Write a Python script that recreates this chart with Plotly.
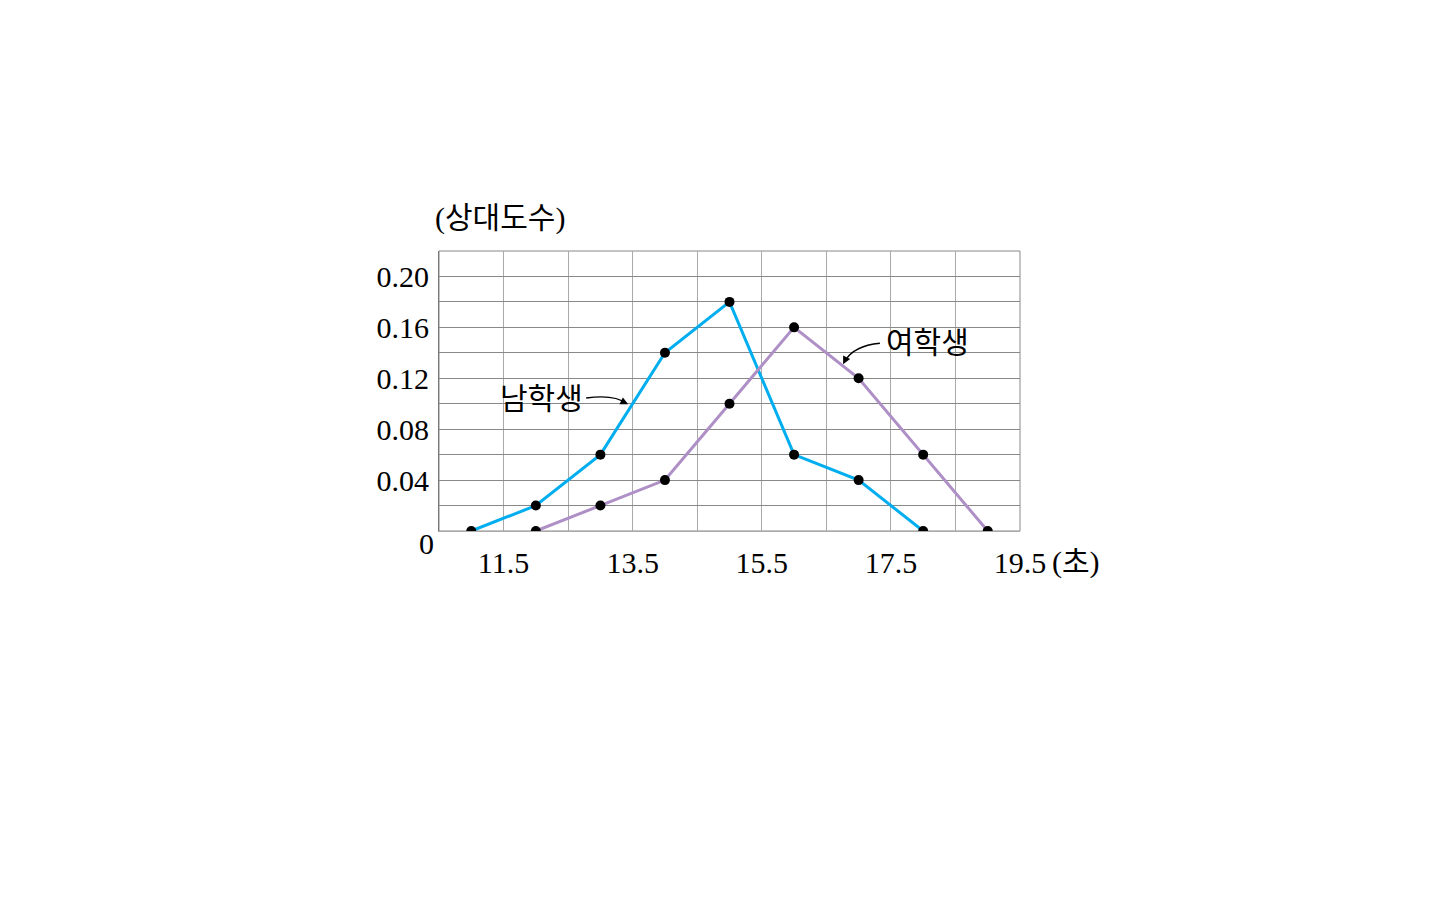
import plotly.graph_objects as go

# Data
boys_x = [11, 12, 13, 14, 15, 16, 17, 18]
boys_y = [0, 0.02, 0.06, 0.14, 0.18, 0.06, 0.04, 0]
girls_x = [12, 13, 14, 15, 16, 17, 18, 19]
girls_y = [0, 0.02, 0.04, 0.10, 0.16, 0.12, 0.06, 0]

x_grid = [10.5, 11.5, 12.5, 13.5, 14.5, 15.5, 16.5, 17.5, 18.5, 19.5]
x_text = ["", "11.5", "", "13.5", "", "15.5", "", "17.5", "", "19.5"]
y_grid = [0, 0.02, 0.04, 0.06, 0.08, 0.10, 0.12, 0.14, 0.16, 0.18, 0.20, 0.22]
y_text = ["", "", "0.04", "", "0.08", "", "0.12", "", "0.16", "", "0.20", ""]

FONT = "Liberation Serif, Noto Sans CJK KR"
BLUE = "#00AEEF"
PURPLE = "#AE8FC6"
NUM_SIZE = 30
KO_SIZE = 30

fig = go.Figure()
fig.add_trace(go.Scatter(x=boys_x, y=boys_y, mode="lines+markers",
                         line=dict(color=BLUE, width=3),
                         marker=dict(color="black", size=10), name="남학생"))
fig.add_trace(go.Scatter(x=girls_x, y=girls_y, mode="lines+markers",
                         line=dict(color=PURPLE, width=3),
                         marker=dict(color="black", size=10), name="여학생"))

# curved arrows
fig.add_shape(type="path", xref="x", yref="y",
              path="M 12.78,0.1045 Q 13.22,0.1075 13.40,0.1002",
              line=dict(color="black", width=1.3))
fig.add_annotation(x=13.43, y=0.0995, ax=-6, ay=-3, xref="x", yref="y",
                   text="", showarrow=True, arrowhead=2, arrowsize=1.2,
                   arrowwidth=1.3, arrowcolor="black")
fig.add_shape(type="path", xref="x", yref="y",
              path="M 17.33,0.1475 Q 16.92,0.1455 16.79,0.1335",
              line=dict(color="black", width=1.3))
fig.add_annotation(x=16.76, y=0.1310, ax=3, ay=-6, xref="x", yref="y",
                   text="", showarrow=True, arrowhead=2, arrowsize=1.2,
                   arrowwidth=1.3, arrowcolor="black")

fig.add_annotation(x=12.08, y=0.1045, xref="x", yref="y", text="남학생",
                   xanchor="center", yanchor="middle",
                   showarrow=False, font=dict(size=KO_SIZE, family=FONT, color="black"))
fig.add_annotation(x=18.07, y=0.1485, xref="x", yref="y", text="여학생",
                   xanchor="center", yanchor="middle",
                   showarrow=False, font=dict(size=KO_SIZE, family=FONT, color="black"))

# axis titles and zero
fig.add_annotation(x=0.105, y=1.118, xref="paper", yref="paper", text="(상대도수)",
                   xanchor="center", yanchor="middle",
                   showarrow=False, font=dict(size=KO_SIZE, family=FONT, color="black"))
fig.add_annotation(x=-0.0207, y=-0.043, xref="paper", yref="paper", text="0",
                   xanchor="center", yanchor="middle",
                   showarrow=False, font=dict(size=NUM_SIZE, family=FONT, color="black"))
fig.add_annotation(x=1.0, y=-0.111, xref="paper", yref="paper", text="(초)",
                   xanchor="left", yanchor="middle", xshift=30, showarrow=False,
                   font=dict(size=KO_SIZE, family=FONT, color="black"))

fig.update_xaxes(range=[10.5, 19.5], tickvals=x_grid, ticktext=x_text,
                 showgrid=True, gridcolor="#AAAAAA", gridwidth=1,
                 zeroline=False, showline=True, linecolor="#AAAAAA", mirror=False,
                 ticks="", ticklabelstandoff=5,
                 tickfont=dict(size=NUM_SIZE, family=FONT, color="black"))
fig.update_yaxes(range=[0, 0.22], tickvals=y_grid, ticktext=y_text,
                 showgrid=True, gridcolor="#888888", gridwidth=1,
                 zeroline=False, showline=True, linecolor="#777777",
                 ticks="", ticklabelstandoff=3,
                 tickfont=dict(size=NUM_SIZE, family=FONT, color="black"))

fig.update_layout(width=1440, height=900, showlegend=False,
                  plot_bgcolor="white", paper_bgcolor="white",
                  margin=dict(l=431, r=428, t=243, b=377, autoexpand=False))
fig.add_shape(type="rect", xref="paper", yref="paper", x0=0, y0=0, x1=1, y1=1,
              line=dict(color="#888888", width=1), layer="below")

fig.write_html("out.html")
